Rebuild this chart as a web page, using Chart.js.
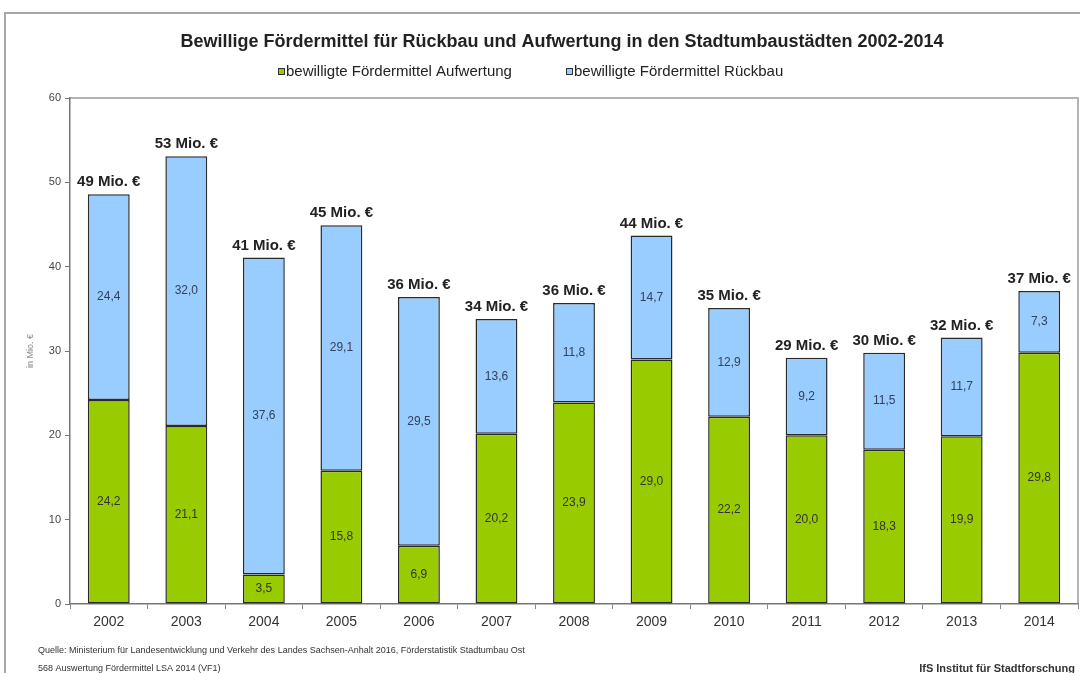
<!DOCTYPE html>
<html lang="de">
<head>
<meta charset="utf-8">
<title>Bewilligte Fördermittel Stadtumbau 2002-2014</title>
<script src="https://cdn.jsdelivr.net/npm/chart.js@4.4.1/dist/chart.umd.min.js"></script>
<style>
  html, body { margin: 0; padding: 0; background: #fff; }
  #wrap { position: relative; width: 1080px; height: 673px; }
</style>
</head>
<body>
<div id="wrap"><canvas id="chart" width="1080" height="673"></canvas></div>
<script>
// ── Daten: bewilligte Fördermittel in Mio. € ──────────────────────────────────
const years      = ['2002','2003','2004','2005','2006','2007','2008','2009','2010','2011','2012','2013','2014'];
const aufwertung = [24.2, 21.1, 3.5, 15.8, 6.9, 20.2, 23.9, 29.0, 22.2, 20.0, 18.3, 19.9, 29.8];
const rueckbau   = [24.4, 32.0, 37.6, 29.1, 29.5, 13.6, 11.8, 14.7, 12.9, 9.2, 11.5, 11.7, 7.3];
const yTicks     = [0, 10, 20, 30, 40, 50, 60];

const FONT = '"Liberation Sans", Arial, sans-serif';
const GREEN = '#99cc00';
const BLUE  = '#99ccff';

const fmt = v => v.toFixed(1).replace('.', ',');

// ── Rahmen, Titel, Legende, Quellenangabe ────────────────────────────────────
const decorPlugin = {
    id: 'decor',
    beforeDraw(chart) {
        const { ctx, chartArea: a } = chart;
        ctx.save();
        ctx.fillStyle = '#fff';
        ctx.fillRect(0, 0, chart.width, chart.height);
        // äußerer Rahmen
        ctx.strokeStyle = '#a8a8a8';
        ctx.lineWidth = 2;
        ctx.beginPath();
        ctx.moveTo(5, 673); ctx.lineTo(5, 13); ctx.lineTo(1080, 13);
        ctx.stroke();
        // Zeichnungsfläche oben/rechts
        ctx.strokeStyle = '#b4b4b4';
        ctx.lineWidth = 2;
        ctx.beginPath();
        ctx.moveTo(a.left, a.top); ctx.lineTo(a.right, a.top); ctx.lineTo(a.right, a.bottom);
        ctx.stroke();
        ctx.restore();
    },
    afterDraw(chart) {
        const { ctx } = chart;
        ctx.save();
        ctx.textBaseline = 'middle';

        ctx.fillStyle = '#222';
        ctx.textAlign = 'center';
        ctx.font = `bold 18px ${FONT}`;
        ctx.fillText('Bewillige Fördermittel für Rückbau und Aufwertung in den Stadtumbaustädten 2002-2014', 562, 42);

        // Legende
        ctx.font = `15px ${FONT}`;
        ctx.textAlign = 'left';
        [[278, GREEN, 'bewilligte Fördermittel Aufwertung'],
         [566, BLUE,  'bewilligte Fördermittel Rückbau']].forEach(([x, c, t]) => {
            ctx.fillStyle = c;
            ctx.fillRect(x, 68, 7, 7);
            ctx.strokeStyle = '#333';
            ctx.lineWidth = 1;
            ctx.strokeRect(x + 0.5, 68.5, 6, 6);
            ctx.fillStyle = '#222';
            ctx.fillText(t, x + 8, 72);
        });

        // Quelle
        ctx.fillStyle = '#333';
        ctx.font = `9px ${FONT}`;
        ctx.fillText('Quelle: Ministerium für Landesentwicklung und Verkehr des Landes Sachsen-Anhalt 2016, Förderstatistik Stadtumbau Ost', 38, 651);
        ctx.fillText('568 Auswertung Fördermittel LSA 2014 (VF1)', 38, 669);
        ctx.textAlign = 'right';
        ctx.font = `bold 11px ${FONT}`;
        ctx.fillText('IfS Institut für Stadtforschung', 1075, 669);
        ctx.restore();
    },
};

// ── Werte in den Balken und Summen darüber ───────────────────────────────────
const labelPlugin = {
    id: 'barLabels',
    afterDatasetsDraw(chart) {
        const { ctx } = chart;
        const y = chart.scales.y;
        ctx.save();
        ctx.textAlign = 'center';
        ctx.textBaseline = 'middle';
        ctx.font = `12px ${FONT}`;
        chart.data.datasets.forEach((ds, di) => {
            ctx.fillStyle = di === 0 ? '#333' : '#33415a';
            chart.getDatasetMeta(di).data.forEach((bar, i) => {
                ctx.fillText(fmt(ds.data[i]), bar.x, (bar.y + bar.base) / 2);
            });
        });
        ctx.font = `bold 15px ${FONT}`;
        ctx.fillStyle = '#222';
        const meta = chart.getDatasetMeta(1);
        years.forEach((_, i) => {
            const total = aufwertung[i] + rueckbau[i];
            ctx.fillText(`${Math.round(total)} Mio. €`, meta.data[i].x, y.getPixelForValue(total) - 12);
        });
        ctx.restore();
    },
};

const barStyle = { borderColor: '#2a2a2a', borderWidth: 1.5, borderSkipped: false, categoryPercentage: 1, barPercentage: 0.54 };

new Chart(document.getElementById('chart'), {
    type: 'bar',
    data: {
        labels: years,
        datasets: [
            { label: 'bewilligte Fördermittel Aufwertung', data: aufwertung, backgroundColor: GREEN, ...barStyle },
            { label: 'bewilligte Fördermittel Rückbau',    data: rueckbau,   backgroundColor: BLUE,  ...barStyle },
        ],
    },
    options: {
        responsive: false, animation: false, devicePixelRatio: 1,
        layout: { padding: { top: 98, left: 25, right: 2, bottom: 39 } },
        plugins: { legend: { display: false }, title: { display: false }, tooltip: { enabled: false } },
        scales: {
            x: {
                stacked: true,
                afterFit: s => { s.height = 30; },
                grid: { offset: true, drawOnChartArea: false, drawTicks: true, tickLength: 5, color: '#888' },
                border: { color: '#777', width: 1.5 },
                ticks: { color: '#333', font: { family: FONT, size: 14 }, padding: 5 },
            },
            y: {
                stacked: true, min: 0, max: 60,
                afterFit: s => { s.width = 45; },
                afterBuildTicks: s => { s.ticks = yTicks.map(v => ({ value: v })); },
                title: { display: true, text: 'in Mio. €', color: '#888', font: { family: FONT, size: 9 }, padding: { top: 0, bottom: 0 } },
                grid: { drawOnChartArea: false, drawTicks: true, tickLength: 5, color: '#777' },
                border: { color: '#777', width: 1.5 },
                ticks: { color: '#444', font: { family: FONT, size: 11 }, padding: 4 },
            },
        },
    },
    plugins: [decorPlugin, labelPlugin],
});
</script>
</body>
</html>
